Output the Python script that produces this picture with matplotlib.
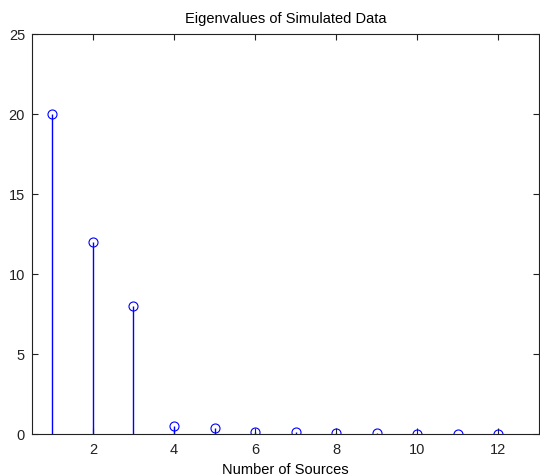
import matplotlib
matplotlib.use("Agg")
import matplotlib.pyplot as plt

sources = [1, 2, 3, 4, 5, 6, 7, 8, 9, 10, 11, 12]
eigenvalues = [20, 12, 8, 0.5, 0.4, 0.1, 0.1, 0.05, 0.05, 0.03, 0.03, 0.02]
xticks = [2, 4, 6, 8, 10, 12]
yticks = [0, 5, 10, 15, 20, 25]

plt.rcParams['font.family'] = ['Liberation Sans', 'DejaVu Sans']

fig = plt.figure(figsize=(5.4, 4.77), dpi=100)
ax = fig.add_axes([32/540, 42/477, 507/540, 400/477])

ml, sl, bl = ax.stem(sources, eigenvalues, basefmt=' ')
plt.setp(sl, color='#0000ff', linewidth=1.0)
plt.setp(ml, color='#0000ff', marker='o', markerfacecolor='none',
         markeredgecolor='#0000ff', markersize=6.5, markeredgewidth=0.8)

ax.set_xlim(0.5, 13)
ax.set_ylim(0, 25)
ax.set_xticks(xticks)
ax.set_yticks(yticks)
ax.tick_params(direction='in', top=True, right=True, length=4, width=0.8,
               labelsize=10.5, colors='#222222', pad=6)
ax.tick_params(axis='y', pad=5)
for s in ax.spines.values():
    s.set_linewidth(0.8)
    s.set_color('#222222')

ax.set_title('Eigenvalues of Simulated Data', fontsize=10.5, pad=9)
ax.set_xlabel('Number of Sources', fontsize=10.5, labelpad=4)

fig.savefig('out.png', dpi=100, facecolor='white')
